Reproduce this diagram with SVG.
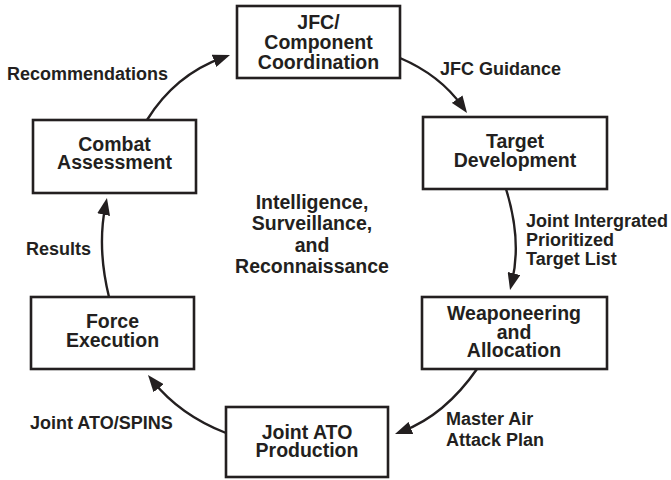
<svg xmlns="http://www.w3.org/2000/svg" width="671" height="480" viewBox="0 0 671 480">
<style>
.box{fill:#fff;stroke:#231f20;stroke-width:2.6}
.bt{font-family:"Liberation Sans",Arial,sans-serif;font-weight:bold;font-size:19.5px;fill:#231f20;text-anchor:middle}
.lb{font-family:"Liberation Sans",Arial,sans-serif;font-weight:bold;font-size:18px;fill:#231f20}
.cn{fill:none;stroke:#231f20;stroke-width:2.4}
</style>
<defs>
<marker id="ah" markerUnits="userSpaceOnUse" markerWidth="17" markerHeight="13" refX="9" refY="6.5" orient="auto">
<path d="M0,0 L17,6.5 L0,13 z" fill="#231f20"/>
</marker>
</defs>
<rect width="671" height="480" fill="#fff"/>
<g id="connectors">
<path class="cn" d="M400,58 Q440,75 462.4,106.5" marker-end="url(#ah)"/>
<path class="cn" d="M506,189 Q522,240 511.9,282.2" marker-end="url(#ah)"/>
<path class="cn" d="M477,369 Q445,415 402.5,431.2" marker-end="url(#ah)"/>
<path class="cn" d="M226,433 Q180,415 153,381.2" marker-end="url(#ah)"/>
<path class="cn" d="M109,297 Q97,248 105.4,205.8" marker-end="url(#ah)"/>
<path class="cn" d="M147,120 Q175,75 222.5,57.7" marker-end="url(#ah)"/>
</g>
<g id="jfc">
<rect class="box" x="237" y="6" width="163" height="72"/>
<text class="bt" x="318.5" y="29">JFC/</text>
<text class="bt" x="318.5" y="49">Component</text>
<text class="bt" x="318.5" y="69">Coordination</text>
</g>
<g id="target">
<rect class="box" x="423" y="117" width="184" height="72"/>
<text class="bt" x="515" y="148">Target</text>
<text class="bt" x="515" y="167">Development</text>
</g>
<g id="weaponeering">
<rect class="box" x="422" y="297" width="185" height="72"/>
<text class="bt" x="514" y="320">Weaponeering</text>
<text class="bt" x="514" y="339">and</text>
<text class="bt" x="514" y="357">Allocation</text>
</g>
<g id="atoproduction">
<rect class="box" x="226" y="407" width="162" height="70"/>
<text class="bt" x="307" y="439">Joint ATO</text>
<text class="bt" x="307" y="457">Production</text>
</g>
<g id="force">
<rect class="box" x="31" y="297" width="163" height="72"/>
<text class="bt" x="112.5" y="328">Force</text>
<text class="bt" x="112.5" y="347">Execution</text>
</g>
<g id="combat">
<rect class="box" x="33" y="120" width="163" height="73"/>
<text class="bt" x="114.5" y="151">Combat</text>
<text class="bt" x="114.5" y="169">Assessment</text>
</g>
<g id="isr">
<text class="bt" x="312" y="209">Intelligence,</text>
<text class="bt" x="312" y="230">Surveillance,</text>
<text class="bt" x="312" y="252">and</text>
<text class="bt" x="312" y="273">Reconnaissance</text>
</g>
<g id="labels">
<text class="lb" x="7" y="80">Recommendations</text>
<text class="lb" x="440" y="75">JFC Guidance</text>
<text class="lb" x="526" y="227">Joint Intergrated</text>
<text class="lb" x="526" y="246">Prioritized</text>
<text class="lb" x="526" y="265">Target List</text>
<text class="lb" x="446" y="425">Master Air</text>
<text class="lb" x="446" y="446">Attack Plan</text>
<text class="lb" x="30" y="429">Joint ATO/SPINS</text>
<text class="lb" x="26" y="255">Results</text>
</g>
</svg>
